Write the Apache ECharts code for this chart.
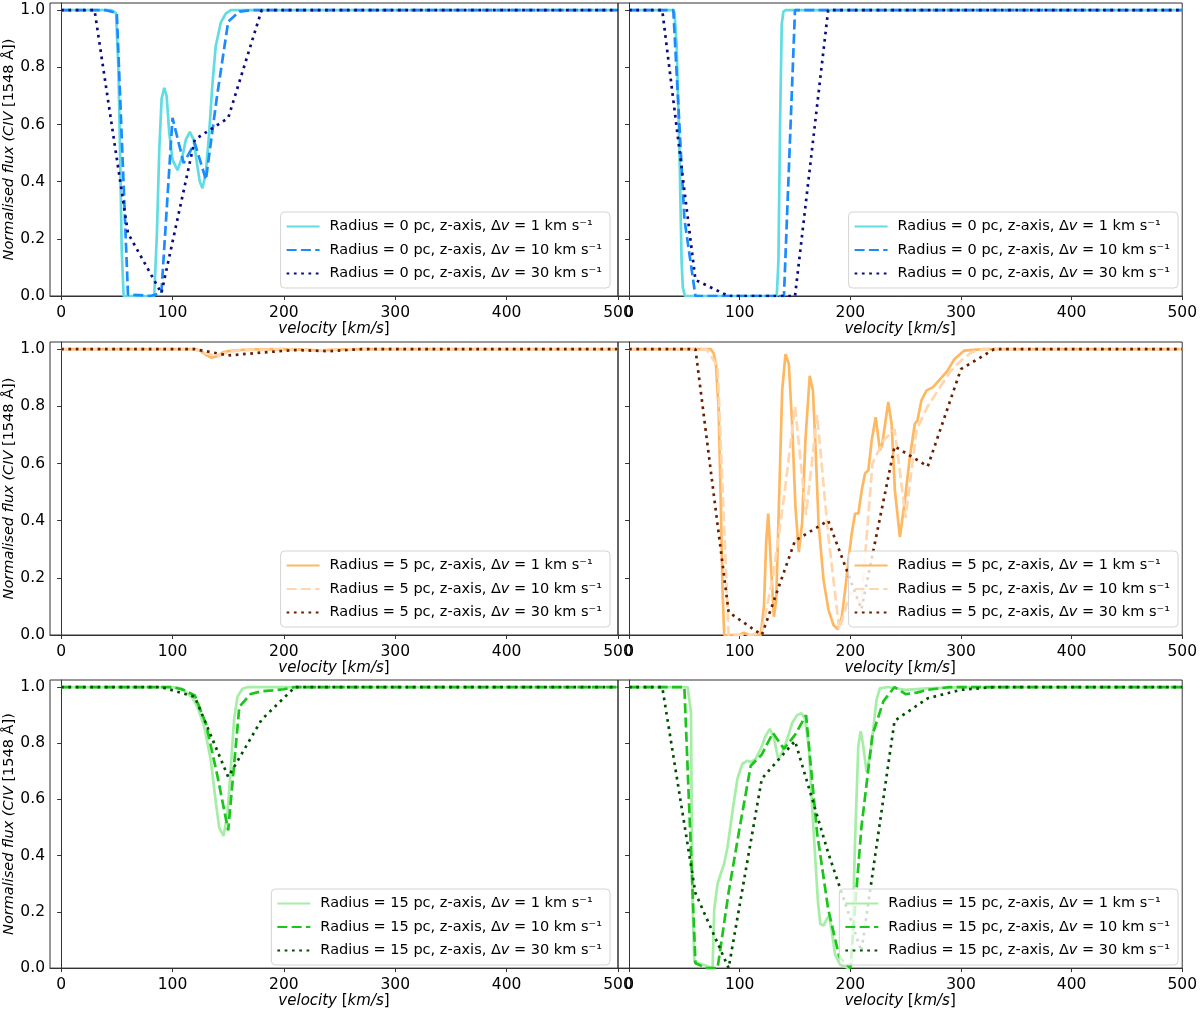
<!DOCTYPE html>
<html><head><meta charset="utf-8">
<script src="https://cdn.jsdelivr.net/npm/echarts@6/dist/echarts.min.js"></script>
<style>html,body{margin:0;padding:0;background:#fff}#c{width:1200px;height:1010px}</style>
</head><body><div id="c"></div>
<script>
// ---- tick labels ----
const xTicks = [0, 100, 200, 300, 400, 500];
const yTicks = [0, 0.2, 0.4, 0.6, 0.8, 1.0];

// ---- legend names ----
const names0  = ['Radius = 0 pc, z-axis, Δv = 1 km s⁻¹', 'Radius = 0 pc, z-axis, Δv = 10 km s⁻¹', 'Radius = 0 pc, z-axis, Δv = 30 km s⁻¹'];
const names5  = ['Radius = 5 pc, z-axis, Δv = 1 km s⁻¹', 'Radius = 5 pc, z-axis, Δv = 10 km s⁻¹', 'Radius = 5 pc, z-axis, Δv = 30 km s⁻¹'];
const names15 = ['Radius = 15 pc, z-axis, Δv = 1 km s⁻¹', 'Radius = 15 pc, z-axis, Δv = 10 km s⁻¹', 'Radius = 15 pc, z-axis, Δv = 30 km s⁻¹'];

// ---- Panel A (top left): Radius 0 pc ----
const vA1 = [0, 45, 49.3, 51.4, 52.9, 54.4, 56.1, 83.6, 86, 88.1, 90.2, 92.6, 94.7, 97.1, 100, 104.5, 109, 112, 115.6, 118.9, 122.4, 124.5, 126.9, 129.9, 132.9, 135.9, 138.8, 143.3, 147.8, 152.3, 500];
const fA1 = [1, 1, 0.99, 0.8, 0.51, 0.16, 0, 0, 0.22, 0.51, 0.69, 0.728, 0.70, 0.57, 0.477, 0.44, 0.49, 0.547, 0.574, 0.547, 0.453, 0.40, 0.377, 0.43, 0.57, 0.745, 0.874, 0.956, 0.988, 1.0, 1.0];
const vA10 = [0, 40, 50, 60, 70, 80, 90, 100, 110, 120, 130, 140, 150, 160, 170, 500];
const fA10 = [1, 1, 0.99, 0.005, 0.003, 0, 0.01, 0.623, 0.465, 0.535, 0.407, 0.70, 0.96, 0.995, 1, 1];
const vA30 = [0, 30, 60, 90, 120, 150, 180, 500];
const fA30 = [1, 1, 0.22, 0.01, 0.547, 0.623, 1, 1];

// ---- Panel B (top right): Radius 0 pc ----
const vB1 = [0, 40, 41.1, 43, 45.6, 47.5, 48.6, 50.5, 133.5, 135, 136.5, 138, 139.5, 141.5, 500];
const fB1 = [1, 1, 0.99, 0.88, 0.5, 0.12, 0.03, 0, 0, 0.12, 0.6, 0.95, 0.995, 1, 1];
const vB10 = [0, 40, 50, 60, 140, 150, 500];
const fB10 = [1, 1, 0.27, 0, 0, 1, 1];
const vB30 = [0, 30, 60, 90, 120, 150, 180, 500];
const fB30 = [1, 1, 0.056, 0, 0, 0, 1, 1];

// ---- Panel C (middle left): Radius 5 pc ----
const vC1 = [0, 120, 125, 130, 135, 140, 145, 150, 160, 175, 200, 220, 232, 245, 270, 500];
const fC1 = [1, 1, 0.995, 0.98, 0.97, 0.975, 0.988, 0.993, 0.997, 0.999, 1.0, 0.998, 0.995, 0.998, 1.0, 1.0];
const vC10 = [0, 120, 130, 140, 150, 160, 200, 220, 230, 240, 260, 500];
const fC10 = [1, 1, 0.985, 0.975, 0.99, 0.996, 1.0, 0.998, 0.995, 0.997, 1.0, 1.0];
const vC30 = [0, 120, 150, 180, 210, 240, 270, 500];
const fC30 = [1, 1, 0.978, 0.988, 0.997, 0.993, 1.0, 1.0];

// ---- Panel D (middle right): Radius 5 pc ----
const vD1 = [0, 74, 76.5, 78.5, 80.9, 83, 84.5, 86, 99.4, 103.9, 108, 119, 121.9, 124, 125.8, 127.9, 130.9, 133, 135.4, 138.4, 141.4, 144.4, 147.4, 150.4, 153.4, 156.4, 159.4, 163.3, 166.2, 168.3, 171.3, 175.8, 180.3, 184.8, 188.7, 192.3, 195.3, 198.3, 201.3, 204.3, 207.3, 210.3, 213.3, 216.3, 219.3, 222.9, 226.8, 228.9, 234.3, 237.3, 240.3, 244.8, 249.3, 253.8, 258.3, 260.7, 264.3, 268.8, 274.8, 280, 288, 294, 303, 320, 500];
const fD1 = [1, 1, 0.985, 0.948, 0.797, 0.447, 0.157, 0, 0, 0.008, 0, 0, 0.099, 0.33, 0.425, 0.27, 0.064, 0.12, 0.447, 0.855, 0.983, 0.948, 0.739, 0.447, 0.29, 0.39, 0.68, 0.907, 0.855, 0.68, 0.39, 0.192, 0.087, 0.035, 0.02, 0.064, 0.157, 0.262, 0.355, 0.425, 0.425, 0.506, 0.565, 0.576, 0.68, 0.762, 0.646, 0.669, 0.815, 0.739, 0.506, 0.343, 0.471, 0.622, 0.739, 0.75, 0.821, 0.855, 0.867, 0.89, 0.925, 0.965, 0.995, 1.0, 1.0];
const vD10 = [0, 70, 80, 90, 100, 110, 120, 130, 140, 150, 160, 170, 180, 190, 200, 210, 220, 230, 240, 250, 260, 270, 280, 290, 300, 310, 320, 500];
const fD10 = [1, 1, 0.94, 0, 0, 0, 0.01, 0.2, 0.48, 0.8, 0.42, 0.77, 0.35, 0.02, 0.15, 0.11, 0.6, 0.68, 0.72, 0.41, 0.72, 0.8, 0.86, 0.92, 0.96, 0.99, 1.0, 1.0];
const vD30 = [0, 60, 90, 120, 150, 180, 210, 240, 270, 300, 330, 500];
const fD30 = [1, 1, 0.08, 0, 0.33, 0.40, 0.09, 0.66, 0.59, 0.93, 1.0, 1.0];

// ---- Panel E (bottom left): Radius 15 pc ----
const vE1 = [0, 100, 108, 113.5, 118, 122.4, 128.4, 134.4, 138.9, 141.9, 145.8, 149.3, 152.3, 155.3, 158.3, 162.8, 168, 500];
const fE1 = [1, 1, 0.995, 0.977, 0.96, 0.93, 0.86, 0.74, 0.59, 0.50, 0.47, 0.547, 0.71, 0.884, 0.965, 0.994, 1, 1];
const vE10 = [0, 100, 110, 120, 130, 140, 150, 160, 170, 180, 190, 200, 210, 500];
const fE10 = [1, 1, 0.99, 0.97, 0.87, 0.69, 0.49, 0.93, 0.975, 0.985, 0.988, 0.992, 1.0, 1.0];
const vE30 = [0, 90, 120, 150, 180, 210, 500];
const fE30 = [1, 1, 0.965, 0.68, 0.884, 1.0, 1.0];

// ---- Panel F (bottom right): Radius 15 pc ----
const vF1 = [0, 53, 56, 56.6, 57.5, 59, 75.5, 77, 80, 83, 86, 89, 93.5, 98, 102.5, 107, 110, 114.4, 118.9, 123.4, 127.3, 130.9, 134.8, 138.4, 142.9, 147.4, 151.9, 155.8, 158.8, 162.4, 165.4, 168.4, 170.8, 172.9, 175.9, 178.8, 180.9, 183.3, 186.3, 190.8, 198.3, 201.2, 204.2, 207.2, 209.4, 211.7, 214.7, 217.7, 220.7, 223.7, 226.7, 234, 250, 270, 300, 500];
const fF1 = [1, 1, 0.907, 0.558, 0.21, 0.023, 0, 0.21, 0.30, 0.337, 0.372, 0.43, 0.558, 0.675, 0.727, 0.738, 0.733, 0.744, 0.779, 0.826, 0.851, 0.82, 0.744, 0.767, 0.814, 0.872, 0.9, 0.907, 0.889, 0.79, 0.581, 0.384, 0.233, 0.157, 0.151, 0.175, 0.186, 0.128, 0.047, 0.012, 0, 0.012, 0.442, 0.79, 0.843, 0.79, 0.698, 0.756, 0.849, 0.954, 0.995, 1.0, 0.99, 0.995, 1.0, 1.0];
const vF10 = [0, 50, 60, 70, 80, 90, 100, 110, 120, 130, 140, 150, 160, 170, 180, 190, 200, 210, 220, 230, 240, 250, 260, 270, 280, 290, 500];
const fF10 = [1, 1, 0.017, 0, 0, 0.27, 0.5, 0.72, 0.76, 0.837, 0.78, 0.83, 0.9, 0.48, 0.21, 0.04, 0, 0.5, 0.83, 0.95, 1.0, 0.975, 0.98, 0.99, 0.995, 1.0, 1.0];
const vF30 = [0, 30, 60, 90, 120, 150, 180, 210, 240, 270, 300, 330, 500];
const fF30 = [1, 1, 0.267, 0, 0.674, 0.808, 0.41, 0.06, 0.88, 0.96, 0.99, 1.0, 1.0];

// ---- colours ----
const col0  = ['#62DCE3', '#1A8CFF', '#0B0B7D'];
const col5  = ['#FFB862', '#FFD6AE', '#6A1E00'];
const col15 = ['#A6EDA6', '#1CC41C', '#004F00'];

const FONT = 'DejaVu Sans';
const LW = 2.7;
const dashT = [10, 4.3];
const dotT = [2.7, 4.6];
const types = ['solid', dashT, dotT];

const panels = [
  {left: 50,  top: 3,   leftCol: true,  names: names0,  cols: col0,  data: [[vA1, fA1], [vA10, fA10], [vA30, fA30]], legRight: 590, legTop: 212},
  {left: 618, top: 3,   leftCol: false, names: names0,  cols: col0,  data: [[vB1, fB1], [vB10, fB10], [vB30, fB30]], legRight: 22,  legTop: 212},
  {left: 50,  top: 342, leftCol: true,  names: names5,  cols: col5,  data: [[vC1, fC1], [vC10, fC10], [vC30, fC30]], legRight: 590, legTop: 551},
  {left: 618, top: 342, leftCol: false, names: names5,  cols: col5,  data: [[vD1, fD1], [vD10, fD10], [vD30, fD30]], legRight: 22,  legTop: 551},
  {left: 50,  top: 680, leftCol: true,  names: names15, cols: col15, data: [[vE1, fE1], [vE10, fE10], [vE30, fE30]], legRight: 590, legTop: 889},
  {left: 618, top: 680, leftCol: false, names: names15, cols: col15, data: [[vF1, fF1], [vF10, fF10], [vF30, fF30]], legRight: 22,  legTop: 889}
];

const zip = (xs, ys) => xs.map((x, i) => [x, ys[i]]);

const grid = [], xAxis = [], yAxis = [], series = [], legend = [];
panels.forEach((p, i) => {
  grid.push({left: p.left, top: p.top, width: 568, height: 293, show: true, borderColor: '#333', borderWidth: 1, containLabel: false});
  xAxis.push({
    type: 'value', gridIndex: i, min: -10, max: 500,
    axisLine: {show: true, lineStyle: {color: '#333', width: 1}},
    axisTick: {show: true, length: 4, lineStyle: {color: '#333'}, customValues: xTicks},
    axisLabel: {show: true, customValues: xTicks, fontFamily: FONT, fontSize: 15.5, color: '#000', margin: 9},
    splitLine: {show: false},
    name: '{i|velocity} [{i|km/s}]', nameLocation: 'middle', nameGap: 23,
    nameTextStyle: {fontFamily: FONT, fontSize: 15, color: '#000', rich: {i: {fontFamily: FONT, fontSize: 15, fontStyle: 'italic', color: '#000'}}}
  });
  const ya = {
    type: 'value', gridIndex: i, min: 0, max: 1.025,
    axisLine: {show: true, lineStyle: {color: '#333', width: 1}},
    axisTick: {show: true, length: 4, lineStyle: {color: '#333'}, customValues: yTicks},
    axisLabel: {show: p.leftCol, customValues: yTicks, fontFamily: FONT, fontSize: 15.5, color: '#000', margin: 5,
      formatter: v => v.toFixed(1)},
    splitLine: {show: false}
  };
  if (p.leftCol) {
    ya.name = '{i|Normalised flux (CIV} [1548 Å])';
    ya.nameLocation = 'middle';
    ya.nameGap = 32;
    ya.nameRotate = 90;
    ya.nameTextStyle = {fontFamily: FONT, fontSize: 14.5, color: '#000', rich: {i: {fontFamily: FONT, fontSize: 14.5, fontStyle: 'italic', color: '#000'}}};
  }
  yAxis.push(ya);
  p.data.forEach((d, k) => {
    series.push({
      type: 'line', name: p.names[k], xAxisIndex: i, yAxisIndex: i,
      data: zip(d[0], d[1]), symbol: 'none', showSymbol: false, smooth: false,
      color: p.cols[k],
      lineStyle: {color: p.cols[k], width: LW, type: types[k]},
      animation: false
    });
  });
  legend.push({
    orient: 'vertical', right: p.legRight, top: p.legTop,
    data: p.names, itemWidth: 33, itemHeight: 14, itemGap: 6.5,
    padding: [6, 8, 6, 5],
    backgroundColor: 'rgba(255,255,255,0.8)', borderColor: '#d4d4d4', borderWidth: 1, borderRadius: 4,
    selectedMode: false,
    itemStyle: {opacity: 0, color: 'rgba(0,0,0,0)', borderWidth: 0},
    formatter: n => n.replace('Δv', 'Δ{iv|v}'),
    textStyle: {fontFamily: FONT, fontSize: 14.5, color: '#000', padding: [0, 0, 0, 5], lineHeight: 17,
      rich: {iv: {fontFamily: FONT, fontSize: 14.5, fontStyle: 'italic', color: '#000', lineHeight: 17}}}
  });
});

const chart = echarts.init(document.getElementById('c'), null, {renderer: 'canvas'});
chart.setOption({animation: false, backgroundColor: '#fff', grid, xAxis, yAxis, series, legend});
</script>
</body></html>
